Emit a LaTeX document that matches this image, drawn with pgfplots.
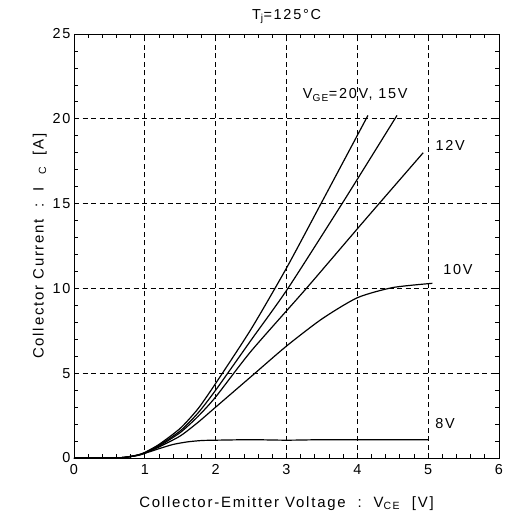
\documentclass[border=0pt]{standalone}
\usepackage{pgfplots}
\pgfplotsset{compat=1.18}
\usepackage{fontspec}
\setmainfont{Liberation Sans}[LetterSpace=12]

\begin{document}
\begin{tikzpicture}
  \begin{axis}[
      scale only axis,
      width=425bp, height=424bp,
      xmin=0, xmax=6, ymin=0, ymax=25,
      xtick={0,1,...,6}, ytick={0,5,...,25},
      minor x tick num=4, minor y tick num=4,
      tick align=inside,
      major tick length=5bp, minor tick length=4bp,
      grid=major,
      major grid style={dash pattern=on 5bp off 3.5bp, black, line width=0.7pt},
      axis line style={line width=1pt},
      every tick/.style={black, line width=0.7pt},
      /pgf/number format/assume math mode=true,
      tick label style={font=\fontsize{14.5}{16}\selectfont},
      xticklabel style={yshift=-3bp},
      title={T\textsubscript{j}=125°C},
      title style={font=\fontsize{14.5}{16}\selectfont, yshift=1bp},
      xlabel={Collector-Emitter Voltage\ \ :\ \ V\textsubscript{CE}\ \ [V]},
      ylabel={Collector Current\ \ :\ \ I\ \ \textsubscript{C}\ \ [A]},
      label style={font=\fontsize{15}{17}\selectfont},
      xlabel style={yshift=-15bp},
      ylabel style={yshift=-1bp},
      clip=false,
      cycle list={black\\},
      every axis plot/.append style={no markers, line width=1.2pt, smooth, tension=0.4},
    ]
    % VGE = 20 V
    \addplot coordinates {(0,0) (0.5,0) (0.7,0.03) (0.9,0.18) (1,0.33) (1.2,0.8)
      (1.5,1.75) (1.75,2.9) (2,4.4) (2.5,7.6) (3,11.2) (3.5,15.1)
      (4.15,20.2)};
    % VGE = 15 V
    \addplot coordinates {(0,0) (0.5,0) (0.7,0.03) (0.9,0.17) (1,0.31) (1.2,0.75)
      (1.5,1.6) (1.75,2.65) (2,4.0) (2.5,6.95) (3.02,10) (3.8,15.1)
      (4.56,20.2)};
    % VGE = 12 V
    \addplot coordinates {(0,0) (0.5,0) (0.7,0.03) (0.9,0.16) (1,0.3) (1.2,0.7)
      (1.5,1.5) (1.75,2.45) (2,3.6) (2.5,6.3) (3.28,10) (4.1,14)
      (4.93,18.0)};
    % VGE = 10 V
    \addplot coordinates {(0,0) (0.5,0) (0.7,0.03) (0.9,0.15) (1,0.28) (1.2,0.65)
      (1.5,1.3) (1.75,2.1) (2,3.0) (2.5,4.8) (3,6.6) (3.5,8.2)
      (4,9.45) (4.5,10.05) (5.06,10.3)};
    % VGE = 8 V
    \addplot coordinates {(0,0) (0.6,0.01) (0.8,0.08) (1,0.28) (1.2,0.55)
      (1.4,0.8) (1.6,0.95) (1.8,1.03) (2,1.05) (2.5,1.08) (3,1.05) (3.5,1.08)
      (4,1.08) (5,1.08)};
    \node[font=\fontsize{14.5}{16}\selectfont] at (axis cs:3.97,21.4) {V\textsubscript{GE}=20V, 15V};
    \node[font=\fontsize{14.5}{16}\selectfont] at (axis cs:5.31,18.45) {12V};
    \node[font=\fontsize{14.5}{16}\selectfont] at (axis cs:5.42,11.1) {10V};
    \node[font=\fontsize{14.5}{16}\selectfont] at (axis cs:5.24,2.06) {8V};
  \end{axis}
  \path (current axis.south west) ++(-74bp,-67bp) rectangle ++(507bp,525bp);
\end{tikzpicture}
\end{document}
